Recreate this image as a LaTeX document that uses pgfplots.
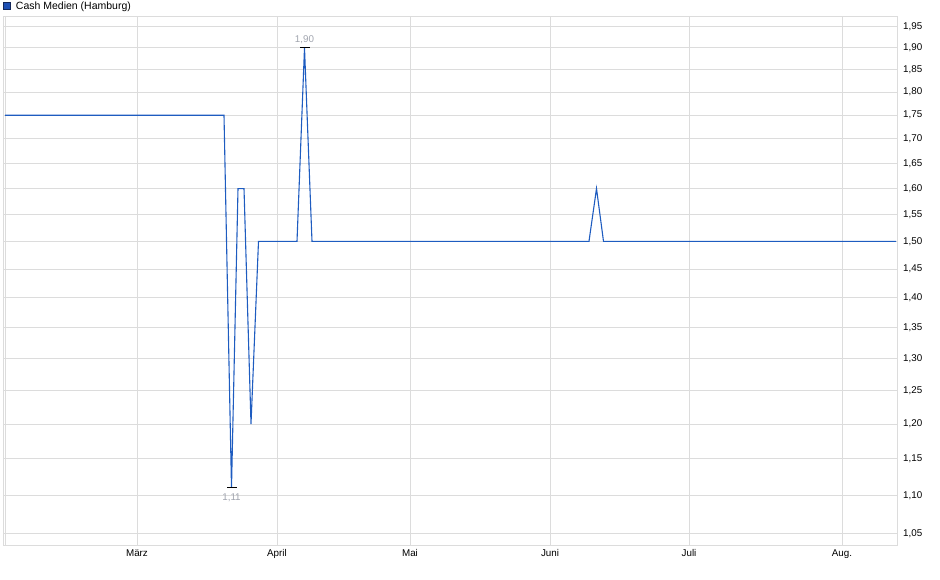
\documentclass[border=0pt]{standalone}
\usepackage{fontspec}
\setmainfont{Liberation Sans}
\usepackage{pgfplots}
\pgfplotsset{compat=1.18}

\definecolor{gridgray}{RGB}{220,220,220}
\definecolor{kurs}{RGB}{30,92,192}
\definecolor{boxfill}{RGB}{30,80,180}
\definecolor{boxline}{RGB}{20,40,90}
\definecolor{extrem}{RGB}{160,164,174}

\begin{document}
\begin{tikzpicture}
\path[use as bounding box] (0,0) rectangle (940pt,-579pt);
\begin{axis}[
    at={(3pt,-545pt)}, anchor=south west,
    scale only axis, width=894pt, height=529pt,
    xmin=3, xmax=897,
    ymode=log, ymin=1.0351, ymax=1.9757,
    xtick={5.3,137,277,410,550,689,842},
    xticklabels={,März,April,Mai,Juni,Juli,Aug.},
    ytick={1.05,1.10,1.15,1.20,1.25,1.30,1.35,1.40,1.45,1.50,1.55,1.60,1.65,1.70,1.75,1.80,1.85,1.90,1.95},
    yticklabels={{1,05},{1,10},{1,15},{1,20},{1,25},{1,30},{1,35},{1,40},{1,45},{1,50},{1,55},{1,60},{1,65},{1,70},{1,75},{1,80},{1,85},{1,90},{1,95}},
    yticklabel pos=right,
    major tick length=0pt,
    minor tick num=0,
    grid=major,
    grid style={draw=gridgray, line width=1pt},
    axis line style={draw=gridgray, line width=1pt},
    tick label style={font=\fontsize{9.8}{11}\selectfont, text=black},
    yticklabel style={anchor=west, inner sep=0pt, xshift=6pt},
    xticklabel style={anchor=north, inner sep=0pt, yshift=-4.5pt, text height=7pt, text depth=2pt},
    legend style={at={(0,1.0189)}, anchor=west, draw=none, fill=none,
        inner sep=0pt, outer sep=0pt, font=\fontsize{10.5}{12}\selectfont,
        nodes={inner sep=0pt}},
    legend cell align=left,
    legend image code/.code={
        \draw[fill=boxfill, draw=boxline, line width=0.8pt] (0pt,-3.6pt) rectangle (7pt,3.6pt);
        \path (12pt,0pt);
    },
]
\addplot[kurs, line width=1.1pt, line join=miter] coordinates {
    (5,1.75) (224,1.75) (231.5,1.11) (238,1.60) (244,1.60) (251,1.20)
    (258.5,1.50) (297,1.50) (304.5,1.90) (312,1.50) (589,1.50)
    (596.5,1.60) (603.5,1.50) (896,1.50)
};
\addlegendentry{Cash Medien (Hamburg)}

\addplot[black, only marks, mark=-, mark size=5pt, mark options={line width=0.9pt},
    point meta=explicit symbolic, nodes near coords,
    nodes near coords style={font=\fontsize{9.8}{11}\selectfont, text=extrem, anchor=south, inner sep=0pt, yshift=4pt},
    forget plot] coordinates {(304.5,1.90) [1,90]};
\addplot[black, only marks, mark=-, mark size=5pt, mark options={line width=0.9pt},
    point meta=explicit symbolic, nodes near coords,
    nodes near coords style={font=\fontsize{9.8}{11}\selectfont, text=extrem, anchor=north, inner sep=0pt, yshift=-5.5pt},
    forget plot] coordinates {(231.5,1.11) [1,11]};
\end{axis}
\end{tikzpicture}
\end{document}
